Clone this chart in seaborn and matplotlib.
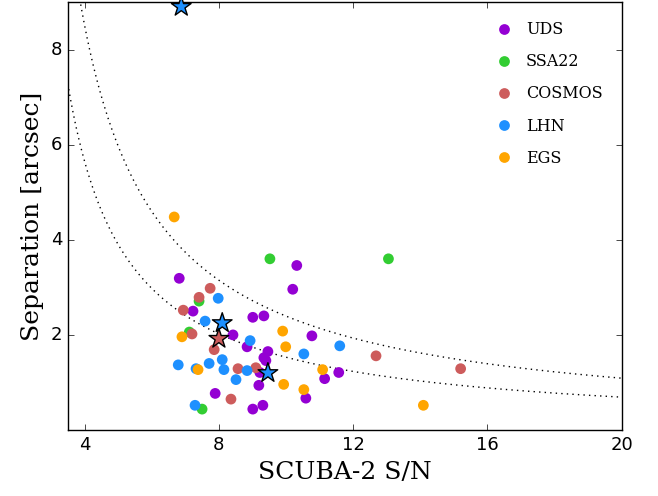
import numpy as np
import pandas as pd
import matplotlib
matplotlib.use("Agg")
import matplotlib.pyplot as plt
import seaborn as sns

# ── Data ────────────────────────────────────────────────────────
uds_sn  = [6.82, 7.23, 9.01, 9.34, 10.32, 10.2, 8.42, 8.84, 9.46, 10.77, 9.34, 9.4,
           9.22, 9.19, 11.57, 11.15, 7.89, 10.59, 9.31, 9.01]
uds_sep = [3.19, 2.5, 2.37, 2.40, 3.46, 2.96, 2.0, 1.75, 1.65, 1.98, 1.52, 1.46,
           1.21, 0.94, 1.21, 1.08, 0.77, 0.67, 0.52, 0.44]
ssa_sn  = [9.52, 13.05, 7.41, 7.12, 7.50]
ssa_sep = [3.6, 3.6, 2.71, 2.06, 0.44]
cos_sn  = [7.74, 7.41, 6.94, 7.2, 7.86, 8.57, 9.1, 8.36, 12.68, 15.2]
cos_sep = [2.98, 2.79, 2.52, 2.02, 1.69, 1.29, 1.31, 0.65, 1.56, 1.29]
lhn_sn  = [7.98, 7.59, 8.93, 8.1, 7.71, 6.79, 7.32, 8.15, 8.84, 8.51, 10.53, 11.6, 7.29]
lhn_sep = [2.77, 2.29, 1.88, 1.48, 1.40, 1.37, 1.29, 1.27, 1.25, 1.06, 1.6, 1.77, 0.52]
egs_sn  = [6.67, 6.9, 7.38, 9.9, 9.99, 9.93, 11.09, 10.53, 14.09]
egs_sep = [4.48, 1.96, 1.27, 2.08, 1.75, 0.96, 1.27, 0.85, 0.52]

star_sn    = [6.88, 8.1, 9.46, 8.0]
star_sep   = [8.9, 2.25, 1.2, 1.92]
star_field = ["LHN", "LHN", "LHN", "COSMOS"]

fields = ["UDS", "SSA22", "COSMOS", "LHN", "EGS"]
colors = {"UDS": "#9400D3", "SSA22": "#32CD32", "COSMOS": "#CD5C5C",
          "LHN": "#1E90FF", "EGS": "#FFA500"}

# envelope curves: sep = a / (S/N - c)
curve_a = [20.0, 12.6]
curve_c = [1.65, 1.77]

df = pd.concat([
    pd.DataFrame({"sn": uds_sn, "sep": uds_sep, "field": "UDS"}),
    pd.DataFrame({"sn": ssa_sn, "sep": ssa_sep, "field": "SSA22"}),
    pd.DataFrame({"sn": cos_sn, "sep": cos_sep, "field": "COSMOS"}),
    pd.DataFrame({"sn": lhn_sn, "sep": lhn_sep, "field": "LHN"}),
    pd.DataFrame({"sn": egs_sn, "sep": egs_sep, "field": "EGS"}),
], ignore_index=True)

# ── Plot ────────────────────────────────────────────────────────
plt.style.use("classic")
fig = plt.figure(figsize=(6.58, 4.96), dpi=100, facecolor="white")
ax = fig.add_axes([0.103, 0.133, 0.842, 0.863])

xs = np.linspace(3.5, 20, 400)
for a, c in zip(curve_a, curve_c):
    ax.plot(xs, a / (xs - c), color="black", linestyle=":", linewidth=1)

sns.scatterplot(data=df, x="sn", y="sep", hue="field", hue_order=fields,
                palette=colors, s=60, edgecolor="none", ax=ax, zorder=3)
ax.scatter(star_sn, star_sep, c=[colors[f] for f in star_field], marker="*",
           s=220, edgecolors="black", linewidths=1, zorder=4, clip_on=False)

ax.set_xlim(3.5, 20)
ax.set_ylim(0, 9)
ax.set_xticks([4, 8, 12, 16, 20])
ax.set_yticks([2, 4, 6, 8])
ax.tick_params(labelsize=13)
ax.set_xlabel("SCUBA-2 S/N", fontsize=18, family="DejaVu Serif")
ax.set_ylabel("Separation [arcsec]", fontsize=18, family="DejaVu Serif")

leg = ax.legend(loc="upper right", frameon=False, numpoints=1, scatterpoints=1,
                prop={"family": "DejaVu Serif", "size": 11.5}, handletextpad=0.4,
                labelspacing=0.95, borderaxespad=0.8)

fig.savefig("out.png", dpi=100, facecolor="white")
